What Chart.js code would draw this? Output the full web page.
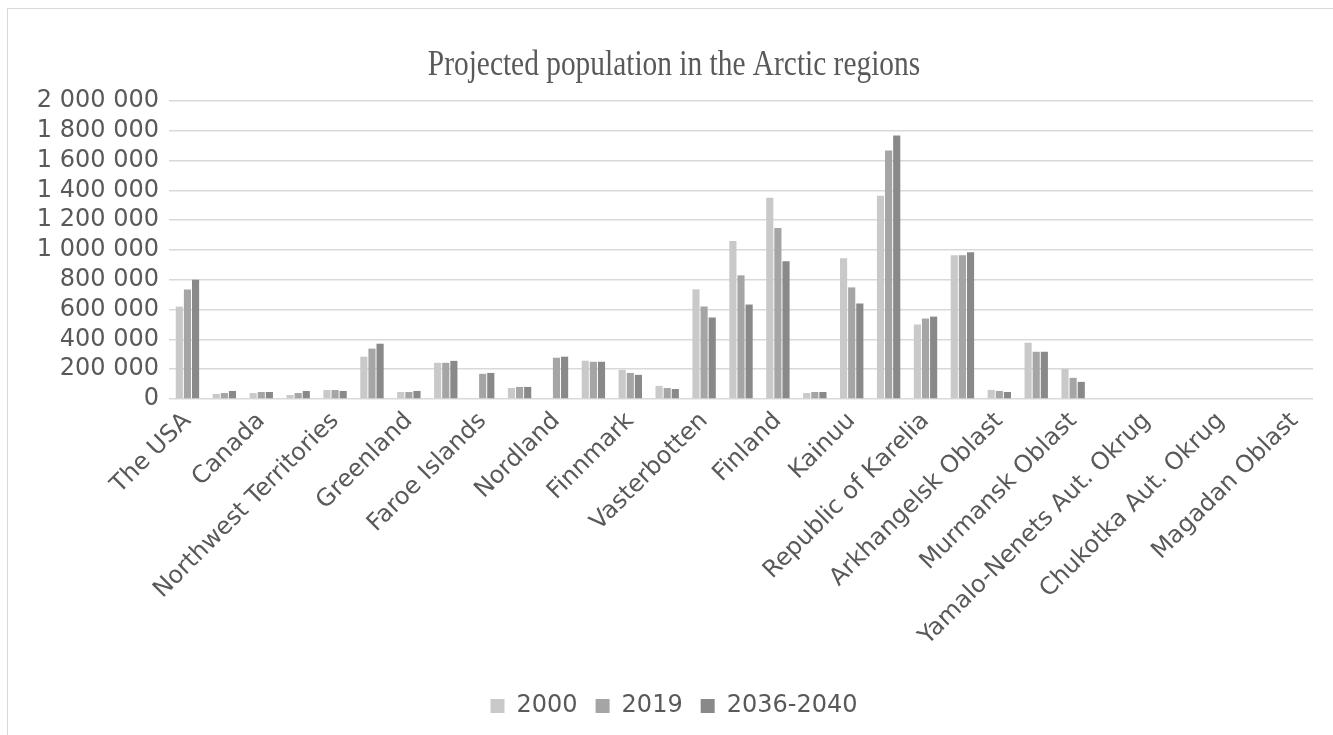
<!DOCTYPE html>
<html>
<head>
<meta charset="utf-8">
<script src="https://cdn.jsdelivr.net/npm/chart.js@4"></script>
<style>
  html, body { margin: 0; padding: 0; background: #fff; overflow: hidden; }
  .frame {
    position: absolute; left: 7px; top: 8px;
    width: 1332px; height: 740px;
    border-left: 1px solid #d9d9d9; border-top: 1px solid #d9d9d9;
  }
</style>
</head>
<body>
<div class="frame">
  <canvas id="chart" width="1332" height="727"></canvas>
</div>
<script>
// regions (only every second name is shown on the axis, as in the original)
const regions = [
  'The USA', 'Yukon', 'Canada', 'Nunavut', 'Northwest Territories', 'Iceland',
  'Greenland', 'Norway', 'Faroe Islands', 'Troms', 'Nordland', 'Sweden',
  'Finnmark', 'Norrbotten', 'Vasterbotten', 'Lapland', 'Finland',
  'Northern Ostrobothnia', 'Kainuu', 'Russia', 'Republic of Karelia',
  'Komi Republic', 'Arkhangelsk Oblast', 'Nenets Aut. Okrug', 'Murmansk Oblast',
  'Khanty-Mansi Aut. Okrug', 'Yamalo-Nenets Aut. Okrug', 'Taymyr',
  'Chukotka Aut. Okrug', 'Sakha Republic', 'Magadan Oblast'
];
const seriesNames = ['2000', '2019', '2036-2040'];
const pop2000 = [620000, 34000, 40000, 27000, 60000, 284000, 47000, 243000, null, 74000,
  null, 257000, 196000, 88000, 736000, 1060000, 1350000, 40000, 945000, 1364000,
  500000, 965000, 61000, 378000, 203000, null, null, null, null, null, null];
const pop2019 = [735000, 40000, 47000, 40000, 60000, 338000, 47000, 243000, 169000, 81000,
  277000, 250000, 175000, 74000, 621000, 830000, 1147000, 47000, 749000, 1667000,
  540000, 965000, 54000, 317000, 142000, null, null, null, null, null, null];
const pop2040 = [800000, 54000, 47000, 54000, 54000, 371000, 54000, 256000, 175000, 81000,
  284000, 250000, 162000, 67000, 547000, 634000, 925000, 47000, 641000, 1769000,
  553000, 985000, 47000, 317000, 115000, null, null, null, null, null, null];
const yTicks = [0, 200000, 400000, 600000, 800000, 1000000, 1200000, 1400000, 1600000, 1800000, 2000000];

const colors = ['#c9c9c9', '#a5a5a5', '#898989'];
const textColor = '#595959';
Chart.defaults.font.family = '"DejaVu Sans", sans-serif';
Chart.defaults.color = textColor;

const titlePlugin = {
  id: 'narrowTitle',
  afterDraw(chart) {
    const ctx = chart.ctx;
    ctx.save();
    ctx.font = '35px "Liberation Serif", serif';
    ctx.fillStyle = textColor;
    ctx.textAlign = 'center';
    ctx.textBaseline = 'alphabetic';
    ctx.translate(chart.width / 2, 66);
    ctx.scale(0.84, 1);
    ctx.fillText('Projected population in the Arctic regions', 0, 0);
    ctx.restore();
  }
};

function spaced(v) {
  return String(v).replace(/\B(?=(\d{3})+(?!\d))/g, ' ');
}

new Chart(document.getElementById('chart'), {
  type: 'bar',
  data: {
    labels: regions,
    datasets: [pop2000, pop2019, pop2040].map((d, i) => ({
      label: seriesNames[i],
      data: d,
      backgroundColor: colors[i],
      categoryPercentage: 0.66,
      barPercentage: 0.88
    }))
  },
  options: {
    responsive: false,
    animation: false,
    layout: { padding: { top: 92, right: 27, left: 27, bottom: 8 } },
    plugins: {
      title: { display: false },
      tooltip: { enabled: false },
      legend: {
        position: 'bottom',
        labels: { boxWidth: 14, boxHeight: 14, padding: 18, font: { size: 24 }, color: textColor }
      }
    },
    scales: {
      x: {
        grid: { display: false, drawTicks: false },
        border: { display: false },
        ticks: {
          autoSkip: false, minRotation: 45, maxRotation: 45, padding: 8,
          font: { size: 24 }, color: textColor,
          callback: (v, i) => (i % 2 === 0 ? regions[i] : '')
        },
        afterFit: (axis) => { axis.height = 277; }
      },
      y: {
        min: 0, max: 2000000,
        afterBuildTicks: (axis) => { axis.ticks = yTicks.map(v => ({ value: v })); },
        grid: { color: '#d9d9d9', lineWidth: 1.5, drawTicks: false },
        border: { display: false },
        ticks: { autoSkip: false, padding: 10, font: { size: 24 }, color: textColor, callback: v => spaced(v) },
        afterFit: (axis) => { axis.width = 134; }
      }
    }
  },
  plugins: [titlePlugin]
});
</script>
</body>
</html>
